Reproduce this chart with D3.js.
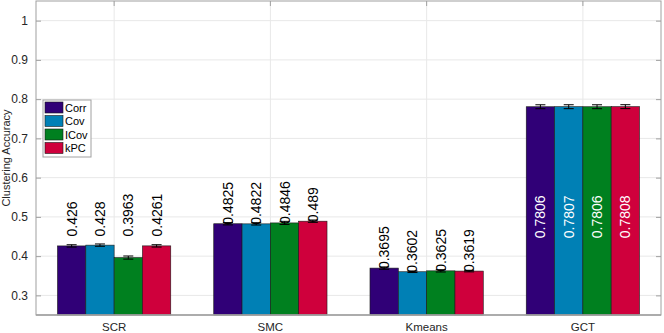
<!DOCTYPE html>
<meta charset="utf-8">
<style>
  body { margin: 0; background: #fff; }
  text { font-family: "Liberation Sans", Arial, sans-serif; }
</style>
<body>
<svg width="664" height="333"></svg>

<script src="https://cdn.jsdelivr.net/npm/d3@7"></script>
<script>

// data
var groups   = ["SCR", "SMC", "Kmeans", "GCT"];
var methods  = ["Corr", "Cov", "ICov", "kPC"];
var colors   = ["#300077", "#0080b5", "#00801f", "#cf003c"];
var accCorr  = [0.426, 0.4825, 0.3695, 0.7806];
var accCov   = [0.428, 0.4822, 0.3602, 0.7807];
var accICov  = [0.3963, 0.4846, 0.3625, 0.7806];
var accKPC   = [0.4261, 0.489, 0.3619, 0.7808];
var errCorr  = [0.003, 0.003, 0.003, 0.005];
var errCov   = [0.003, 0.003, 0.002, 0.005];
var errICov  = [0.004, 0.004, 0.003, 0.005];
var errKPC   = [0.003, 0.003, 0.002, 0.005];
var yTicks   = [0.3, 0.4, 0.5, 0.6, 0.7, 0.8, 0.9, 1];

var values = [accCorr, accCov, accICov, accKPC];
var errors = [errCorr, errCov, errICov, errKPC];

var rows = [];
groups.forEach(function(g, gi) {
    methods.forEach(function(m, mi) {
	rows.push({group: g, gi: gi, method: m, mi: mi,
		   value: values[mi][gi], err: errors[mi][gi]});
    });
});

var svg = d3.select("svg");
var margin = {top: 1, bottom: 18, left: 36, right: 3};
var width = +svg.attr("width") - margin.left - margin.right;
var height = +svg.attr("height") - margin.top - margin.bottom;

var x = d3.scaleBand().domain(groups).range([0, width]).paddingInner(0.275).paddingOuter(0.1375);
var xm = d3.scaleBand().domain(methods).range([0, x.bandwidth()]);
var y = d3.scaleLinear().domain([0.25, 1.05]).range([height, 0]);

var g = svg.append("g")
    .attr("transform", "translate(" + margin.left + "," + margin.top + ")");

// grid
g.selectAll(".hgrid").data(yTicks).enter().append("line")
    .attr("x1", 0).attr("x2", width)
    .attr("y1", function(d) { return y(d); })
    .attr("y2", function(d) { return y(d); })
    .attr("stroke", "#e8e8e8");

g.selectAll(".vgrid").data(groups).enter().append("line")
    .attr("x1", function(d) { return x(d) + x.bandwidth() / 2; })
    .attr("x2", function(d) { return x(d) + x.bandwidth() / 2; })
    .attr("y1", 0).attr("y2", height)
    .attr("stroke", "#e8e8e8");

// bars
g.selectAll(".bar").data(rows).enter().append("rect")
    .attr("x", function(d) { return x(d.group) + xm(d.method); })
    .attr("width", xm.bandwidth())
    .attr("y", function(d) { return y(d.value); })
    .attr("height", function(d) { return height - y(d.value); })
    .attr("fill", function(d) { return colors[d.mi]; })
    .attr("stroke", "#1a1a1a")
    .attr("stroke-width", 0.6);

// error bars
var eb = g.selectAll(".err").data(rows).enter().append("g")
    .attr("transform", function(d) {
	return "translate(" + (x(d.group) + xm(d.method) + xm.bandwidth() / 2) + ",0)";
    })
    .attr("stroke", "#000").attr("stroke-width", 1);
eb.append("line").attr("x1", 0).attr("x2", 0)
    .attr("y1", function(d) { return y(d.value - d.err); })
    .attr("y2", function(d) { return y(d.value + d.err); });
eb.append("line").attr("x1", -5).attr("x2", 5)
    .attr("y1", function(d) { return y(d.value - d.err); })
    .attr("y2", function(d) { return y(d.value - d.err); });
eb.append("line").attr("x1", -5).attr("x2", 5)
    .attr("y1", function(d) { return y(d.value + d.err); })
    .attr("y2", function(d) { return y(d.value + d.err); });

// value labels (SCR lifted, GCT inside the bars)
function labelY(d) {
    if (d.gi == 0) return y(0.45);
    if (d.gi == 3) return y(0.5);
    return y(d.value) + 1;
}
g.selectAll(".lab").data(rows).enter().append("text")
    .attr("transform", function(d) {
	return "translate(" + (x(d.group) + xm(d.method) + xm.bandwidth() / 2 + 5) + "," + labelY(d) + ") rotate(-90)";
    })
    .attr("text-anchor", function(d) { return d.gi == 3 ? "middle" : "start"; })
    .attr("font-size", "14px")
    .attr("fill", function(d) { return d.gi == 3 ? "#fff" : "#000"; })
    .text(function(d) { return d.value; });

// box
g.append("rect").attr("width", width).attr("height", height)
    .attr("fill", "none").attr("stroke", "#a0a0a0");
g.append("line").attr("x1", 0).attr("x2", width)
    .attr("y1", height).attr("y2", height)
    .attr("stroke", "#a0a0a0").attr("stroke-width", 1.6);

// y axis (left and right, ticks inside)
var yAxis = g.append("g").call(d3.axisLeft(y).tickValues(yTicks).tickSize(-5).tickPadding(8).tickFormat(d3.format("")));
yAxis.select(".domain").remove();
yAxis.selectAll("line").attr("stroke", "#a0a0a0");
yAxis.selectAll("text").attr("font-size", "12px").attr("fill", "#262626")
    .style("font-family", "Liberation Sans, Arial, sans-serif");

var yAxisR = g.append("g").attr("transform", "translate(" + width + ",0)")
    .call(d3.axisRight(y).tickValues(yTicks).tickSize(-5).tickFormat(""));
yAxisR.select(".domain").remove();
yAxisR.selectAll("line").attr("stroke", "#a0a0a0");

// x axis
var xAxis = g.append("g").attr("transform", "translate(0," + height + ")")
    .call(d3.axisBottom(x).tickSize(0));
xAxis.select(".domain").remove();
xAxis.selectAll("text").attr("y", 16).attr("dy", 0)
    .attr("font-size", "11.5px").attr("fill", "#262626")
    .style("font-family", "Liberation Sans, Arial, sans-serif");

var xAxisT = g.append("g").call(d3.axisTop(x).tickSize(-5).tickFormat(""));
xAxisT.select(".domain").remove();
xAxisT.selectAll("line").attr("stroke", "#a0a0a0");

// axis label
svg.append("text")
    .attr("transform", "translate(10," + (margin.top + height / 2) + ") rotate(-90)")
    .attr("text-anchor", "middle")
    .attr("font-size", "11px")
    .attr("fill", "#262626")
    .text("Clustering Accuracy");

// legend
var leg = svg.append("g").attr("transform", "translate(43,100)");
leg.append("rect").attr("width", 48).attr("height", 57)
    .attr("fill", "#fff").attr("stroke", "#a0a0a0");
var item = leg.selectAll(".item").data(methods).enter().append("g")
    .attr("transform", function(d, i) { return "translate(2," + (2 + i * 13.5) + ")"; });
item.append("rect").attr("width", 18).attr("height", 11)
    .attr("fill", function(d, i) { return colors[i]; })
    .attr("stroke", "#1a1a1a").attr("stroke-width", 0.6);
item.append("text").attr("x", 20).attr("y", 9.5)
    .attr("font-size", "11px").attr("fill", "#000")
    .text(function(d) { return d; });

</script>
</body>
